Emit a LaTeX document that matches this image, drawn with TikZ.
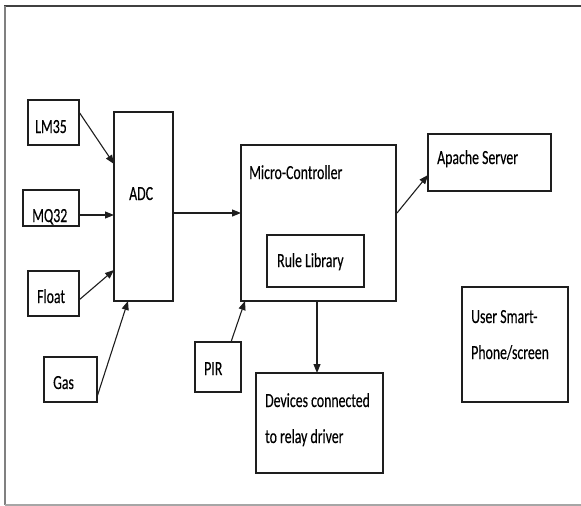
\documentclass[tikz,border=0pt]{standalone}
\usepackage{fontspec}
\setmainfont{Carlito}[FakeBold=0.4]
\usetikzlibrary{arrows.meta,calc}
\definecolor{ink}{HTML}{1E1E1E}
\newcommand{\nrw}[1]{\scalebox{0.69}[1]{#1}}
\begin{document}
\begin{tikzpicture}[x=1pt,y=-1pt,
  box/.style={draw=ink,line width=1.4pt,inner sep=0pt,outer sep=0pt,anchor=north west},
  txt/.style={anchor=base west,inner sep=0pt,font=\fontsize{20}{24}\selectfont,text=black},
  conn/.style={draw=ink,line width=1.1pt,-{Triangle[length=9pt,width=7pt]}}]
\useasboundingbox (0,0) rectangle (581,506);
\fill[white] (0,0) rectangle (581,506);
% frame
\draw[color=black!75,line width=2pt] (4,6) -- (581,6);
\draw[color=black!50,line width=2pt] (5,6) -- (5,505);
\draw[color=black!35,line width=1.5pt] (5,505) -- (581,505);
% boxes
\node[box,minimum width=51pt,minimum height=45pt] (lm) at (28,100) {};
\node[box,minimum width=56pt,minimum height=36pt] (mq) at (23,190) {};
\node[box,minimum width=51pt,minimum height=45pt] (fl) at (28,271) {};
\node[box,minimum width=53pt,minimum height=45pt] (gas) at (44,357) {};
\node[box,minimum width=59pt,minimum height=189pt] (adc) at (114,112) {};
\node[box,minimum width=46pt,minimum height=50pt] (pir) at (195,342) {};
\node[box,minimum width=155pt,minimum height=156pt] (mc) at (241,145) {};
\node[box,minimum width=97pt,minimum height=52pt] (rl) at (267,235) {};
\node[box,minimum width=123pt,minimum height=57pt] (ap) at (428,134) {};
\node[box,minimum width=106pt,minimum height=115pt] (us) at (462,287) {};
\node[box,minimum width=127pt,minimum height=100pt] (dev) at (256,373) {};
% texts
\node[txt] (tlm) at (35,133) {\nrw{LM35}};
\node[txt] (tmq) at (32,222) {\nrw{MQ32}};
\node[txt] (tfl) at (37,303) {\nrw{Float}};
\node[txt] (tgas) at (53,389) {\nrw{Gas}};
\node[txt] (tadc) at (129,200) {\nrw{ADC}};
\node[txt] (tpir) at (204,375) {\nrw{PIR}};
\node[txt] (tmc) at (249,179) {\nrw{Micro-Controller}};
\node[txt] (trl) at (277,267) {\nrw{Rule Library}};
\node[txt] (tap) at (437,164) {\nrw{Apache Server}};
\node[txt] (tus1) at (471,323) {\nrw{User Smart-}};
\node[txt] (tus2) at (471,359) {\nrw{Phone/screen}};
\node[txt] (tdev1) at (265,407) {\nrw{Devices connected}};
\node[txt] (tdev2) at (265,443) {\nrw{to relay driver}};
% connectors
\draw[conn] ($(lm.north east)+(0,12)$) -- ($(adc.north west)+(0,52)$);
\draw[conn] ($(mq.north east)+(0,25)$) -- ($(adc.north west)+(0,103)$);
\draw[conn] ($(fl.north east)+(0,29)$) -- ($(adc.north west)+(0,158)$);
\draw[conn] ($(gas.north east)+(0,40)$) -- ($(adc.south west)+(14,0)$);
\draw[conn] ($(adc.north east)+(0,101)$) -- ($(mc.north west)+(0,68)$);
\draw[conn] ($(pir.north west)+(36,0)$) -- ($(mc.south west)+(4,0)$);
\draw[conn] ($(mc.north east)+(1,68)$) -- ($(ap.north west)+(0,41)$);
\draw[conn] ($(mc.south west)+(76,0)$) -- ($(dev.north west)+(61,0)$);
\end{tikzpicture}
\end{document}
